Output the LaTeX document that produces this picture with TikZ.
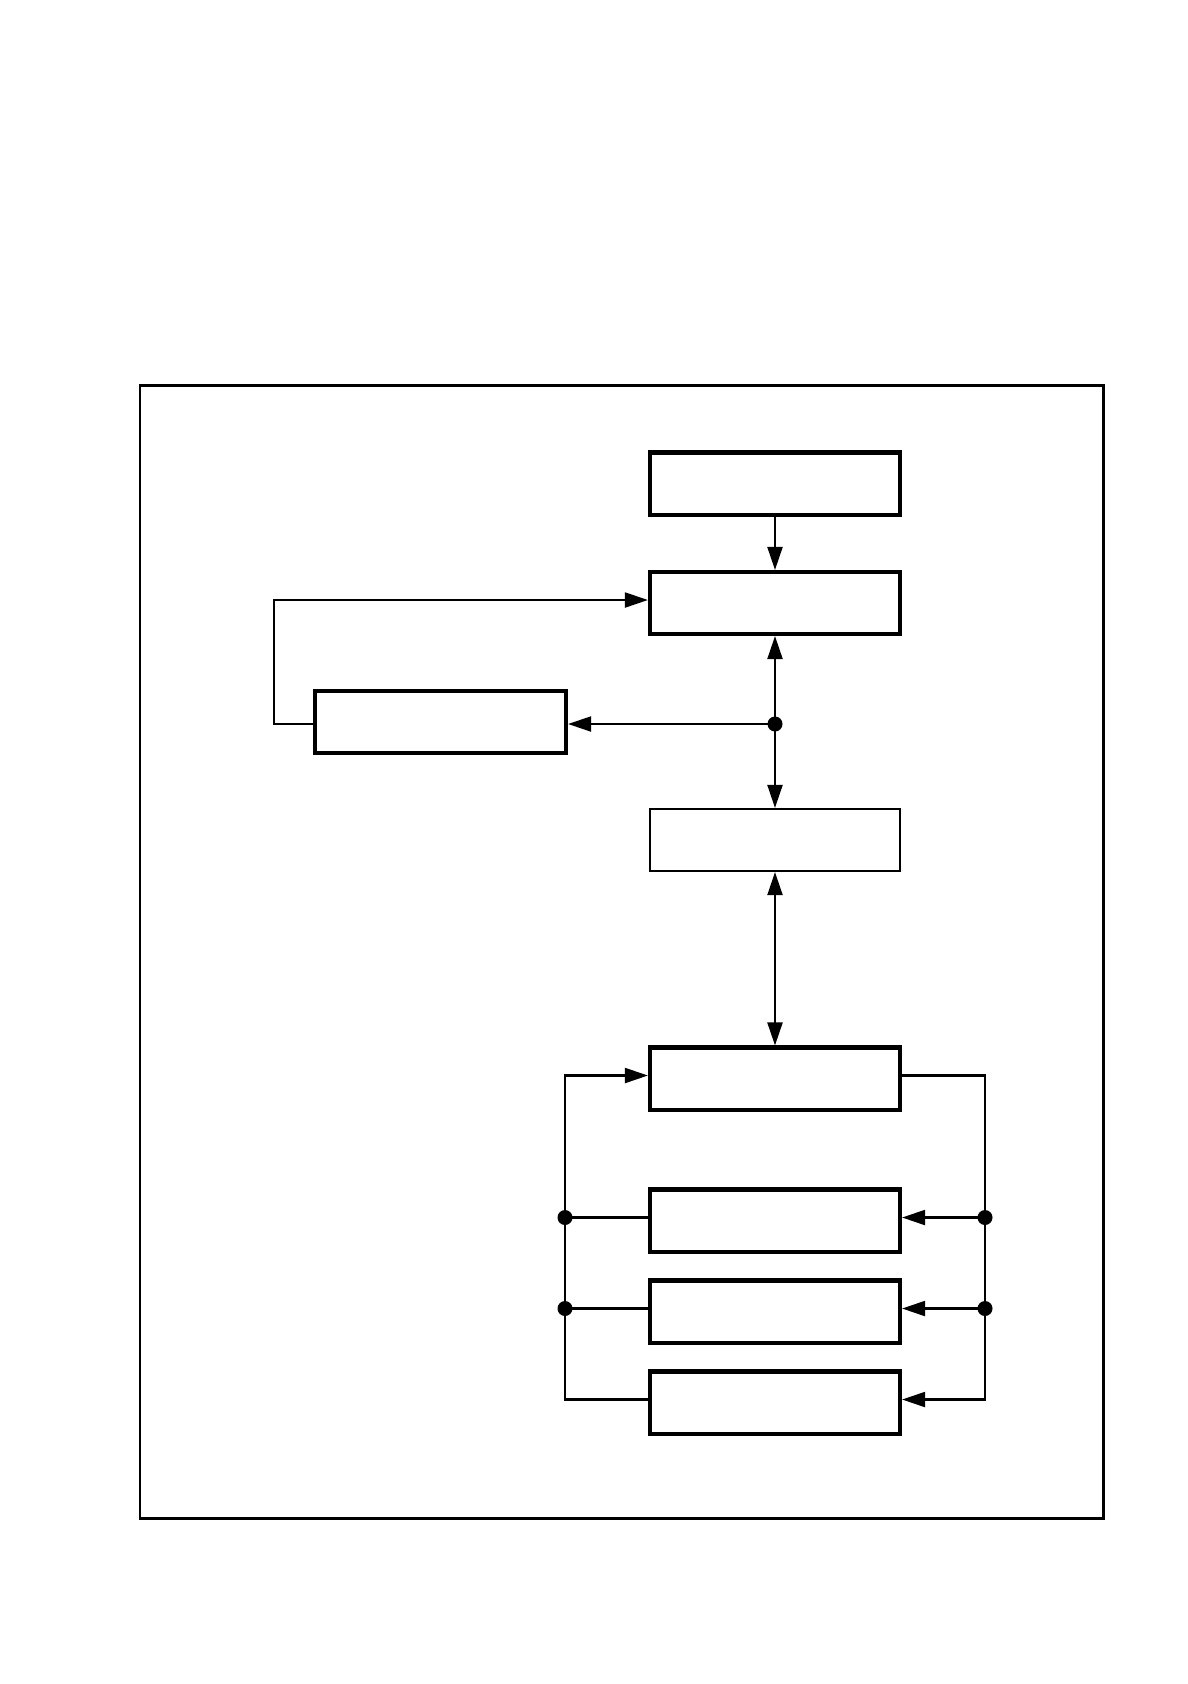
\documentclass[tikz,border=0pt]{standalone}
\usetikzlibrary{arrows.meta}

\begin{document}
\begin{tikzpicture}[x=0.01cm,y=-0.01cm,
  blk/.style={draw,line width=1.15pt,minimum width=2.5cm,minimum height=0.62cm,inner sep=0pt},
  thinblk/.style={blk,line width=0.6pt},
  wire/.style={line width=0.6pt,-{Triangle[length=0.23cm,width=0.15cm]}},
  dwire/.style={line width=0.6pt,{Triangle[length=0.23cm,width=0.15cm]}-{Triangle[length=0.23cm,width=0.15cm]}},
  dot/.style={circle,fill,inner sep=0pt,minimum size=0.15cm}]
\useasboundingbox (0,0) rectangle (1188,1684);
\draw[line width=0.85pt] (140,385) rectangle (1103,1518);
\node[blk] (b1) at (775,483.5) {};
\node[blk] (b2) at (775,603) {};
\node[blk,minimum width=2.51cm] (b3) at (440.5,722) {};
\node[thinblk] (b4) at (775,840) {};
\node[blk] (b5) at (775,1078.5) {};
\node[blk] (b6) at (775,1220.5) {};
\node[blk] (b7) at (775,1311.5) {};
\node[blk] (b8) at (775,1402.5) {};
\coordinate (j1) at (775,724);
\coordinate (l1) at (565,0);
\coordinate (r1) at (985,0);
% slightly raised connection points
\coordinate (b2w) at ([yshift=0.85pt]b2.west);
\coordinate (b3w) at ([yshift=-0.55pt]b3.west);
\foreach \i in {5,...,8} {
  \coordinate (b\i w) at ([yshift=0.85pt]b\i.west);
  \coordinate (b\i e) at ([yshift=0.85pt]b\i.east);
}
\draw[wire] (b1) -- (b2);
\draw[dwire] (b2) -- (b4);
\draw[wire] (j1) -- (j1 -| b3.east);
\draw[wire] (b3w) -- ++(-39,0) |- (b2w);
\draw[dwire] (b4) -- (b5);
\draw[wire] (b5e) -- (b5e -| r1) |- (b8e);
\draw[wire] (b6e -| r1) -- (b6e);
\draw[wire] (b7e -| r1) -- (b7e);
\draw[wire] (b8w) -- (b8w -| l1) |- (b5w);
\draw[line width=0.6pt] (b6w) -- (b6w -| l1);
\draw[line width=0.6pt] (b7w) -- (b7w -| l1);
\node[dot] (d1) at (j1) {};
\node[dot] (d2) at (b6w -| l1) {};
\node[dot] (d3) at (b7w -| l1) {};
\node[dot] (d4) at (b6e -| r1) {};
\node[dot] (d5) at (b7e -| r1) {};
\end{tikzpicture}
\end{document}
